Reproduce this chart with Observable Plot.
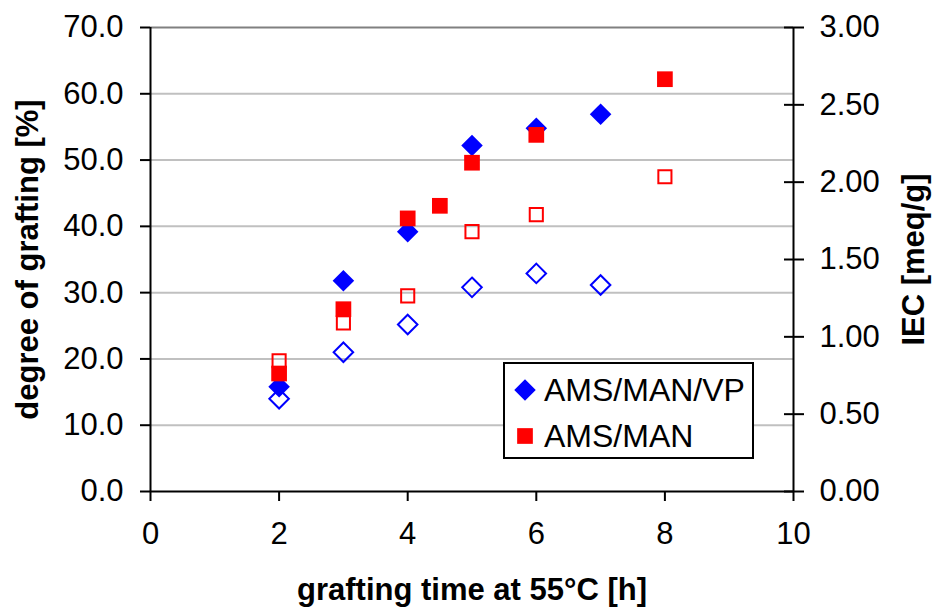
<!DOCTYPE html>
<html><head><meta charset="utf-8">
<script src="https://cdn.jsdelivr.net/npm/d3@7"></script>
<script src="https://cdn.jsdelivr.net/npm/@observablehq/plot@0.6"></script>
<style>
body{margin:0;background:#fff;}
#wrap{position:relative;width:934px;height:608px;font-family:"Liberation Sans",Arial,sans-serif;}
#legend{position:absolute;left:503px;top:362px;}
</style></head><body><div id="wrap"></div>
<script>
// grafting time [h]
const timesVP = [2, 3, 4, 5, 6, 7];
const timesMAN = [2, 3, 4, 4.5, 5, 6, 8];
const timesIecMAN = [2, 3, 4, 5, 6, 8];
// degree of grafting [%] (filled markers, left axis)
const dogVP = [15.8, 31.8, 39.2, 52.2, 54.8, 56.9];
const dogMAN = [17.8, 27.5, 41.2, 43.1, 49.6, 53.8, 62.2];
// IEC [meq/g] (open markers, right axis)
const iecVP = [0.60, 0.90, 1.08, 1.32, 1.41, 1.335];
const iecMAN = [0.845, 1.09, 1.265, 1.68, 1.79, 2.035];
// ticks
const xTicks = [0, 2, 4, 6, 8, 10];
const leftTicks = [0, 10, 20, 30, 40, 50, 60, 70];
const gridTicks = [10, 20, 30, 40, 50, 60];
const rightTicks = [0, 0.5, 1.0, 1.5, 2.0, 2.5, 3.0];
const seriesNames = ["AMS/MAN/VP", "AMS/MAN"];
const titles = {x: "grafting time at 55°C [h]", y: "degree of grafting [%]", y2: "IEC [meq/g]"};

const LEFT_MAX = 70, RIGHT_MAX = 3;
const K = LEFT_MAX / RIGHT_MAX; // maps right-axis values onto the shared y scale

const BLUE = "#0000ff", RED = "#ff0000";
const FONT = '"Liberation Sans", Arial, sans-serif';
const TICK_FS = 31;

const vpDog = timesVP.map((t, i) => ({t, v: dogVP[i]}));
const manDog = timesMAN.map((t, i) => ({t, v: dogMAN[i]}));
const vpIec = timesVP.map((t, i) => ({t, v: iecVP[i]}));
const manIec = timesIecMAN.map((t, i) => ({t, v: iecMAN[i]}));

const plot = Plot.plot({
  width: 934, height: 608,
  marginLeft: 150, marginRight: 141, marginTop: 27, marginBottom: 117,
  style: {fontFamily: FONT, fontSize: TICK_FS + "px", color: "#000", background: "#fff", overflow: "visible"},
  x: {domain: [0, 10]},
  y: {domain: [0, LEFT_MAX]},
  marks: [
    Plot.gridY(gridTicks, {stroke: "#c0c0c0", strokeOpacity: 1, strokeWidth: 2}),
    Plot.ruleY([LEFT_MAX], {stroke: "#808080", strokeWidth: 2}),
    Plot.axisY(leftTicks, {anchor: "left", tickSize: 10, tickPadding: 17, tickFormat: d => d.toFixed(1), label: null, strokeWidth: 2, fontSize: TICK_FS}),
    Plot.axisY(rightTicks.map(v => v * K), {anchor: "right", tickSize: 20, dx: -10, tickFormat: () => "", label: null, strokeWidth: 2}),
    Plot.axisY(rightTicks.map(v => v * K), {anchor: "right", tickSize: 0, tickPadding: 26, tickFormat: v => (v / K).toFixed(2), label: null, fontSize: TICK_FS}),
    Plot.axisX(xTicks, {anchor: "bottom", tickSize: 10, tickPadding: 20, label: null, strokeWidth: 2, fontSize: TICK_FS}),
    Plot.ruleX([0, 10], {stroke: "#000", strokeWidth: 2}),
    Plot.ruleY([0], {stroke: "#000", strokeWidth: 2}),
    Plot.dot(vpIec, {x: "t", y: d => d.v * K, symbol: "diamond2", r: 8.8, stroke: BLUE, strokeWidth: 2, fill: "none"}),
    Plot.dot(manIec, {x: "t", y: d => d.v * K, symbol: "square", r: 7.4, stroke: RED, strokeWidth: 2, fill: "none"}),
    Plot.dot(vpDog, {x: "t", y: "v", symbol: "diamond2", r: 9.7, fill: BLUE, stroke: "none"}),
    Plot.dot(manDog, {x: "t", y: "v", symbol: "square", r: 8.86, fill: RED, stroke: "none"}),
    Plot.text([titles.x], {text: d => d, frameAnchor: "bottom", dy: 99, textAnchor: "middle", lineAnchor: "middle", fontSize: 31, fontWeight: "bold"}),
    Plot.text([titles.y], {text: d => d, frameAnchor: "left", dx: -122, rotate: -90, textAnchor: "middle", lineAnchor: "middle", fontSize: 31, fontWeight: "bold"}),
    Plot.text([titles.y2], {text: d => d, frameAnchor: "right", dx: 121, rotate: -90, textAnchor: "middle", lineAnchor: "middle", fontSize: 31, fontWeight: "bold"})
  ]
});
const wrap = document.getElementById("wrap");
wrap.appendChild(plot);

// legend
const lg = d3.select(wrap).append("svg").attr("id", "legend").attr("width", 252).attr("height", 98);
lg.append("rect").attr("x", 1).attr("y", 1).attr("width", 249).attr("height", 95).attr("fill", "#fff").attr("stroke", "#000").attr("stroke-width", 2);
const sym = [d3.symbol(d3.symbolDiamond2, Math.PI * 9.7 * 9.7), d3.symbol(d3.symbolSquare, Math.PI * 8.86 * 8.86)];
const cols = [BLUE, RED];
const rowsY = [28, 74];
seriesNames.forEach((name, i) => {
  lg.append("path").attr("d", sym[i]()).attr("transform", `translate(${22},${rowsY[i]})`).attr("fill", cols[i]);
  lg.append("text").attr("x", 41).attr("y", rowsY[i] + 11).attr("font-family", FONT).attr("font-size", 32).attr("fill", "#000").text(name);
});
</script></body></html>
